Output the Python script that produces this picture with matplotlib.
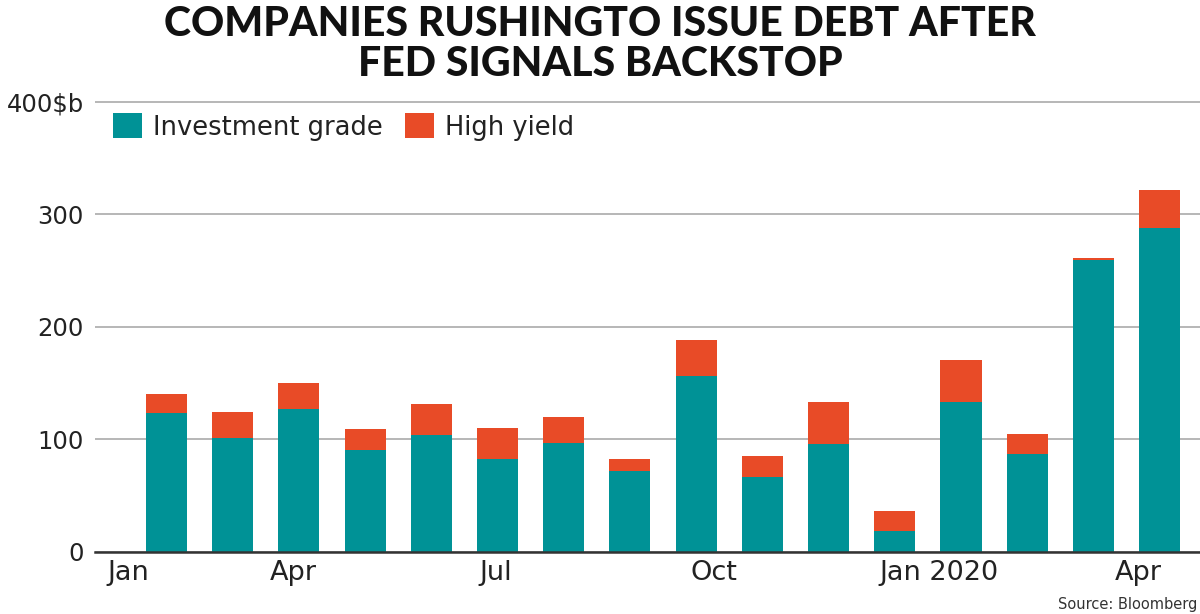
import matplotlib.pyplot as plt

months = ['Jan', 'Feb', 'Mar', 'Apr', 'May', 'Jun', 'Jul', 'Aug', 'Sep', 'Oct', 'Nov', 'Dec',
          'Jan 2020', 'Feb 2020', 'Mar 2020', 'Apr 2020']
investment_grade = [123, 101, 127, 90, 104, 82, 97, 72, 156, 66.5, 96, 18, 133, 87, 259, 288]
high_yield = [17.5, 23, 23, 19, 27.5, 28, 23, 10.5, 32, 18.5, 37, 18.5, 37.5, 18, 2.5, 33.5]

tick_pos = [-0.57, 1.91, 4.98, 8.27, 11.67, 14.68]
tick_labels = ['Jan', 'Apr', 'Jul', 'Oct', 'Jan 2020', 'Apr']
y_ticks = [0, 100, 200, 300, 400]
y_labels = ['0', '100', '200', '300', '400$b']

teal = '#009296'
orange = '#e84b27'
text_col = '#222222'


def plot_debt():
    plt.rcParams['font.family'] = ['DejaVu Sans']
    fig = plt.figure(figsize=(12, 6.14), dpi=100)
    ax = fig.add_axes([0.0792, 0.1015, 0.9208, 0.742])

    x = list(range(len(months)))
    b1 = ax.bar(x, investment_grade, width=0.62, color=teal, label='Investment grade', zorder=2)
    b2 = ax.bar(x, high_yield, width=0.62, color=orange, bottom=investment_grade,
                label='High yield', zorder=2)

    ax.set_xlim(-1.08, 15.61)
    ax.set_ylim(0, 405)

    ax.set_yticks(y_ticks)
    ax.set_yticklabels(y_labels)
    ax.set_xticks(tick_pos)
    ax.set_xticklabels(tick_labels)
    ax.tick_params(axis='y', length=0, pad=8, labelsize=17.5, labelcolor=text_col)
    ax.tick_params(axis='x', length=0, pad=6, labelsize=19.5, labelcolor=text_col)

    for s in ['top', 'right', 'left']:
        ax.spines[s].set_visible(False)
    ax.spines['bottom'].set_color('#333333')
    ax.spines['bottom'].set_linewidth(1.8)
    ax.spines['bottom'].set_zorder(3)

    ax.yaxis.grid(color='#aaaaaa', linewidth=1.2)
    ax.set_axisbelow(True)

    fig.legend(handles=[b1, b2], loc='center left', bbox_to_anchor=(113 / 1200, 1 - 127 / 614),
               ncol=2, frameon=False, fontsize=18.5, borderpad=0, borderaxespad=0,
               handlelength=1.12, handleheight=1.12, handletextpad=0.45, columnspacing=0.85,
               labelcolor=text_col)

    fig.text(0.5, 1 - 24 / 614, 'COMPANIES RUSHINGTO ISSUE DEBT AFTER', ha='center', va='center',
             fontsize=29.5, fontweight='black', family=['Lato', 'DejaVu Sans'], color='#111111')
    fig.text(0.5, 1 - 64 / 614, 'FED SIGNALS BACKSTOP', ha='center', va='center',
             fontsize=29.5, fontweight='black', family=['Lato', 'DejaVu Sans'], color='#111111')

    fig.text(1197 / 1200, 1 - 604 / 614, 'Source: Bloomberg', ha='right', va='center',
             fontsize=10.5, color='#333333')

    plt.savefig('out.png', dpi=100)


if __name__ == '__main__':
    plot_debt()
